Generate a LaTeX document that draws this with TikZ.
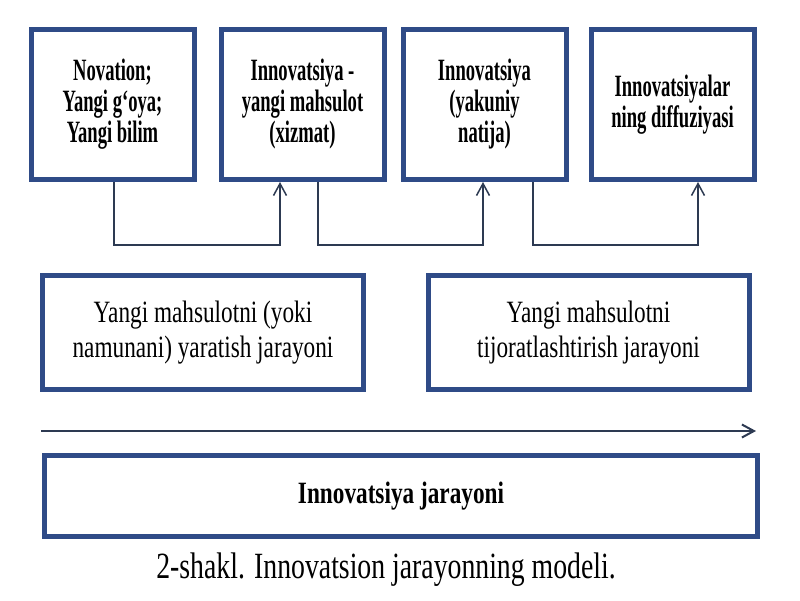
\documentclass[tikz,border=0pt]{standalone}
\usepackage{fontspec}
\setmainfont[FakeStretch=0.75]{Liberation Serif}
\newfontfamily\narrowbold[FakeStretch=0.6]{Liberation Serif}
\usetikzlibrary{arrows.meta}
\definecolor{boxblue}{RGB}{47,75,135}
\definecolor{linkgray}{RGB}{45,58,82}
\tikzset{
  stage/.style={draw=boxblue,line width=5pt,inner sep=0pt,align=center,
    minimum width=163pt,minimum height=150pt,
    font=\narrowbold\bfseries\fontsize{31}{31}\selectfont},
  process/.style={draw=boxblue,line width=5pt,inner sep=0pt,align=center,
    minimum width=321pt,minimum height=114pt,
    font=\fontsize{31}{35}\selectfont},
  link/.style={draw=linkgray,line width=1.5pt,-{Straight Barb[length=12pt,width=13pt]}},
}
\begin{document}
\begin{tikzpicture}[x=1pt,y=-1pt]
\useasboundingbox (0,0) rectangle (800,600);

% Stages of the innovation
\node[stage] (nov) at (112.5,104.5) {Novation;\\Yangi g‘oya;\\Yangi bilim};
\node[stage] (prod) at (302.5,104.5) {Innovatsiya -\\yangi mahsulot\\(xizmat)};
\node[stage] (res) at (484.5,104.5) {Innovatsiya\\(yakuniy\\natija)};
\node[stage] (dif) at (672.5,104.5) {Innovatsiyalar\\ning diffuziyasi};

% Links between stages
\draw[link] ([xshift=1.5pt]nov.south) -- ++(0,63) -| ([xshift=-22.5pt]prod.south);
\draw[link] ([xshift=15.5pt]prod.south) -- ++(0,63) -| ([xshift=-1.5pt]res.south);
\draw[link] ([xshift=48.5pt]res.south) -- ++(0,63) -| ([xshift=25.5pt]dif.south);

% Processes
\node[process] (create) at (203,332.5) {Yangi mahsulotni (yoki\\namunani) yaratish jarayoni};
\node[process] (trade) at (588.5,332.5) {Yangi mahsulotni\\tijoratlashtirish jarayoni};

% Time axis
\coordinate (flowL) at (41,431);
\coordinate (flowR) at (756,431);
\draw[link,line width=2pt] (flowL) -- (flowR);

\node[process,minimum width=713pt,minimum height=81pt,font=\bfseries\fontsize{31}{35}\selectfont]
  (whole) at (401,496) {Innovatsiya jarayoni};

\node[font=\fontsize{37}{40}\selectfont] (cap) at (386,570) {2-shakl. Innovatsion jarayonning modeli.};
\end{tikzpicture}
\end{document}
